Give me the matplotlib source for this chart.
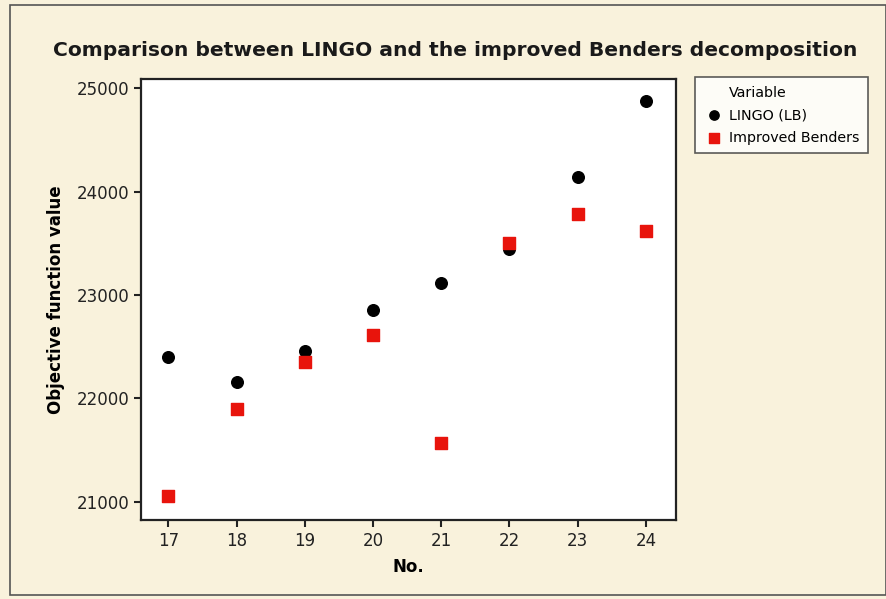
import matplotlib
matplotlib.use("Agg")
import matplotlib.pyplot as plt
from matplotlib.patches import Rectangle
from matplotlib.lines import Line2D

# data
runs = [17, 18, 19, 20, 21, 22, 23, 24]
lingo_lb = [22400, 22160, 22460, 22855, 23120, 23445, 24140, 24875]
improved_benders = [21060, 21900, 22350, 22610, 21570, 23500, 23780, 23620]

bg = "#f9f2dc"

fig = plt.figure(figsize=(8.86, 5.99), dpi=100)
fig.patch.set_facecolor(bg)
fig.patches.append(Rectangle((10 / 886, 4 / 599), 876 / 886, 590 / 599, transform=fig.transFigure,
                             fill=False, edgecolor="#555555", linewidth=1.2))

ax = fig.add_axes([141 / 886, 1 - 520 / 599, 535 / 886, 441 / 599])
ax.set_facecolor("white")

h1 = ax.scatter(runs, lingo_lb, marker="o", s=70, color="black", label="LINGO (LB)", zorder=3)
h2 = ax.scatter(runs, improved_benders, marker="s", s=75, color="#e8140c", label="Improved Benders", zorder=4)

ax.set_xlim(16.6, 24.44)
ax.set_ylim(20826, 25087)
ax.set_xticks(runs)
ax.set_yticks([21000, 22000, 23000, 24000, 25000])
ax.tick_params(labelsize=12, length=5, width=1.5, colors="#222222")
for s in ax.spines.values():
    s.set_linewidth(1.6)
    s.set_color("#222222")

ax.set_xlabel("No.", fontsize=12, fontweight="bold", labelpad=6)
ax.set_ylabel("Objective function value", fontsize=12, fontweight="bold", labelpad=8)
fig.text(455 / 886, 1 - 50 / 599, "Comparison between LINGO and the improved Benders decomposition",
         ha="center", va="center", fontsize=14.6, fontweight="bold", color="#1a1a1a")

# "Variable" header as an entry with no marker so it lines up with the labels
blank = Line2D([], [], linestyle="none")
leg = ax.legend([blank, h1, h2], ["Variable", "LINGO (LB)", "Improved Benders"],
                loc="upper left", bbox_to_anchor=(695 / 886, 1 - 77 / 599),
                bbox_transform=fig.transFigure, fontsize=10.3,
                frameon=True, fancybox=False, edgecolor="#333333", handletextpad=0.3,
                borderpad=0.6, borderaxespad=0, markerscale=0.8, handlelength=1.5,
                labelspacing=0.6)
leg.get_frame().set_linewidth(1.2)

fig.savefig("out.png", dpi=100, facecolor=bg)
